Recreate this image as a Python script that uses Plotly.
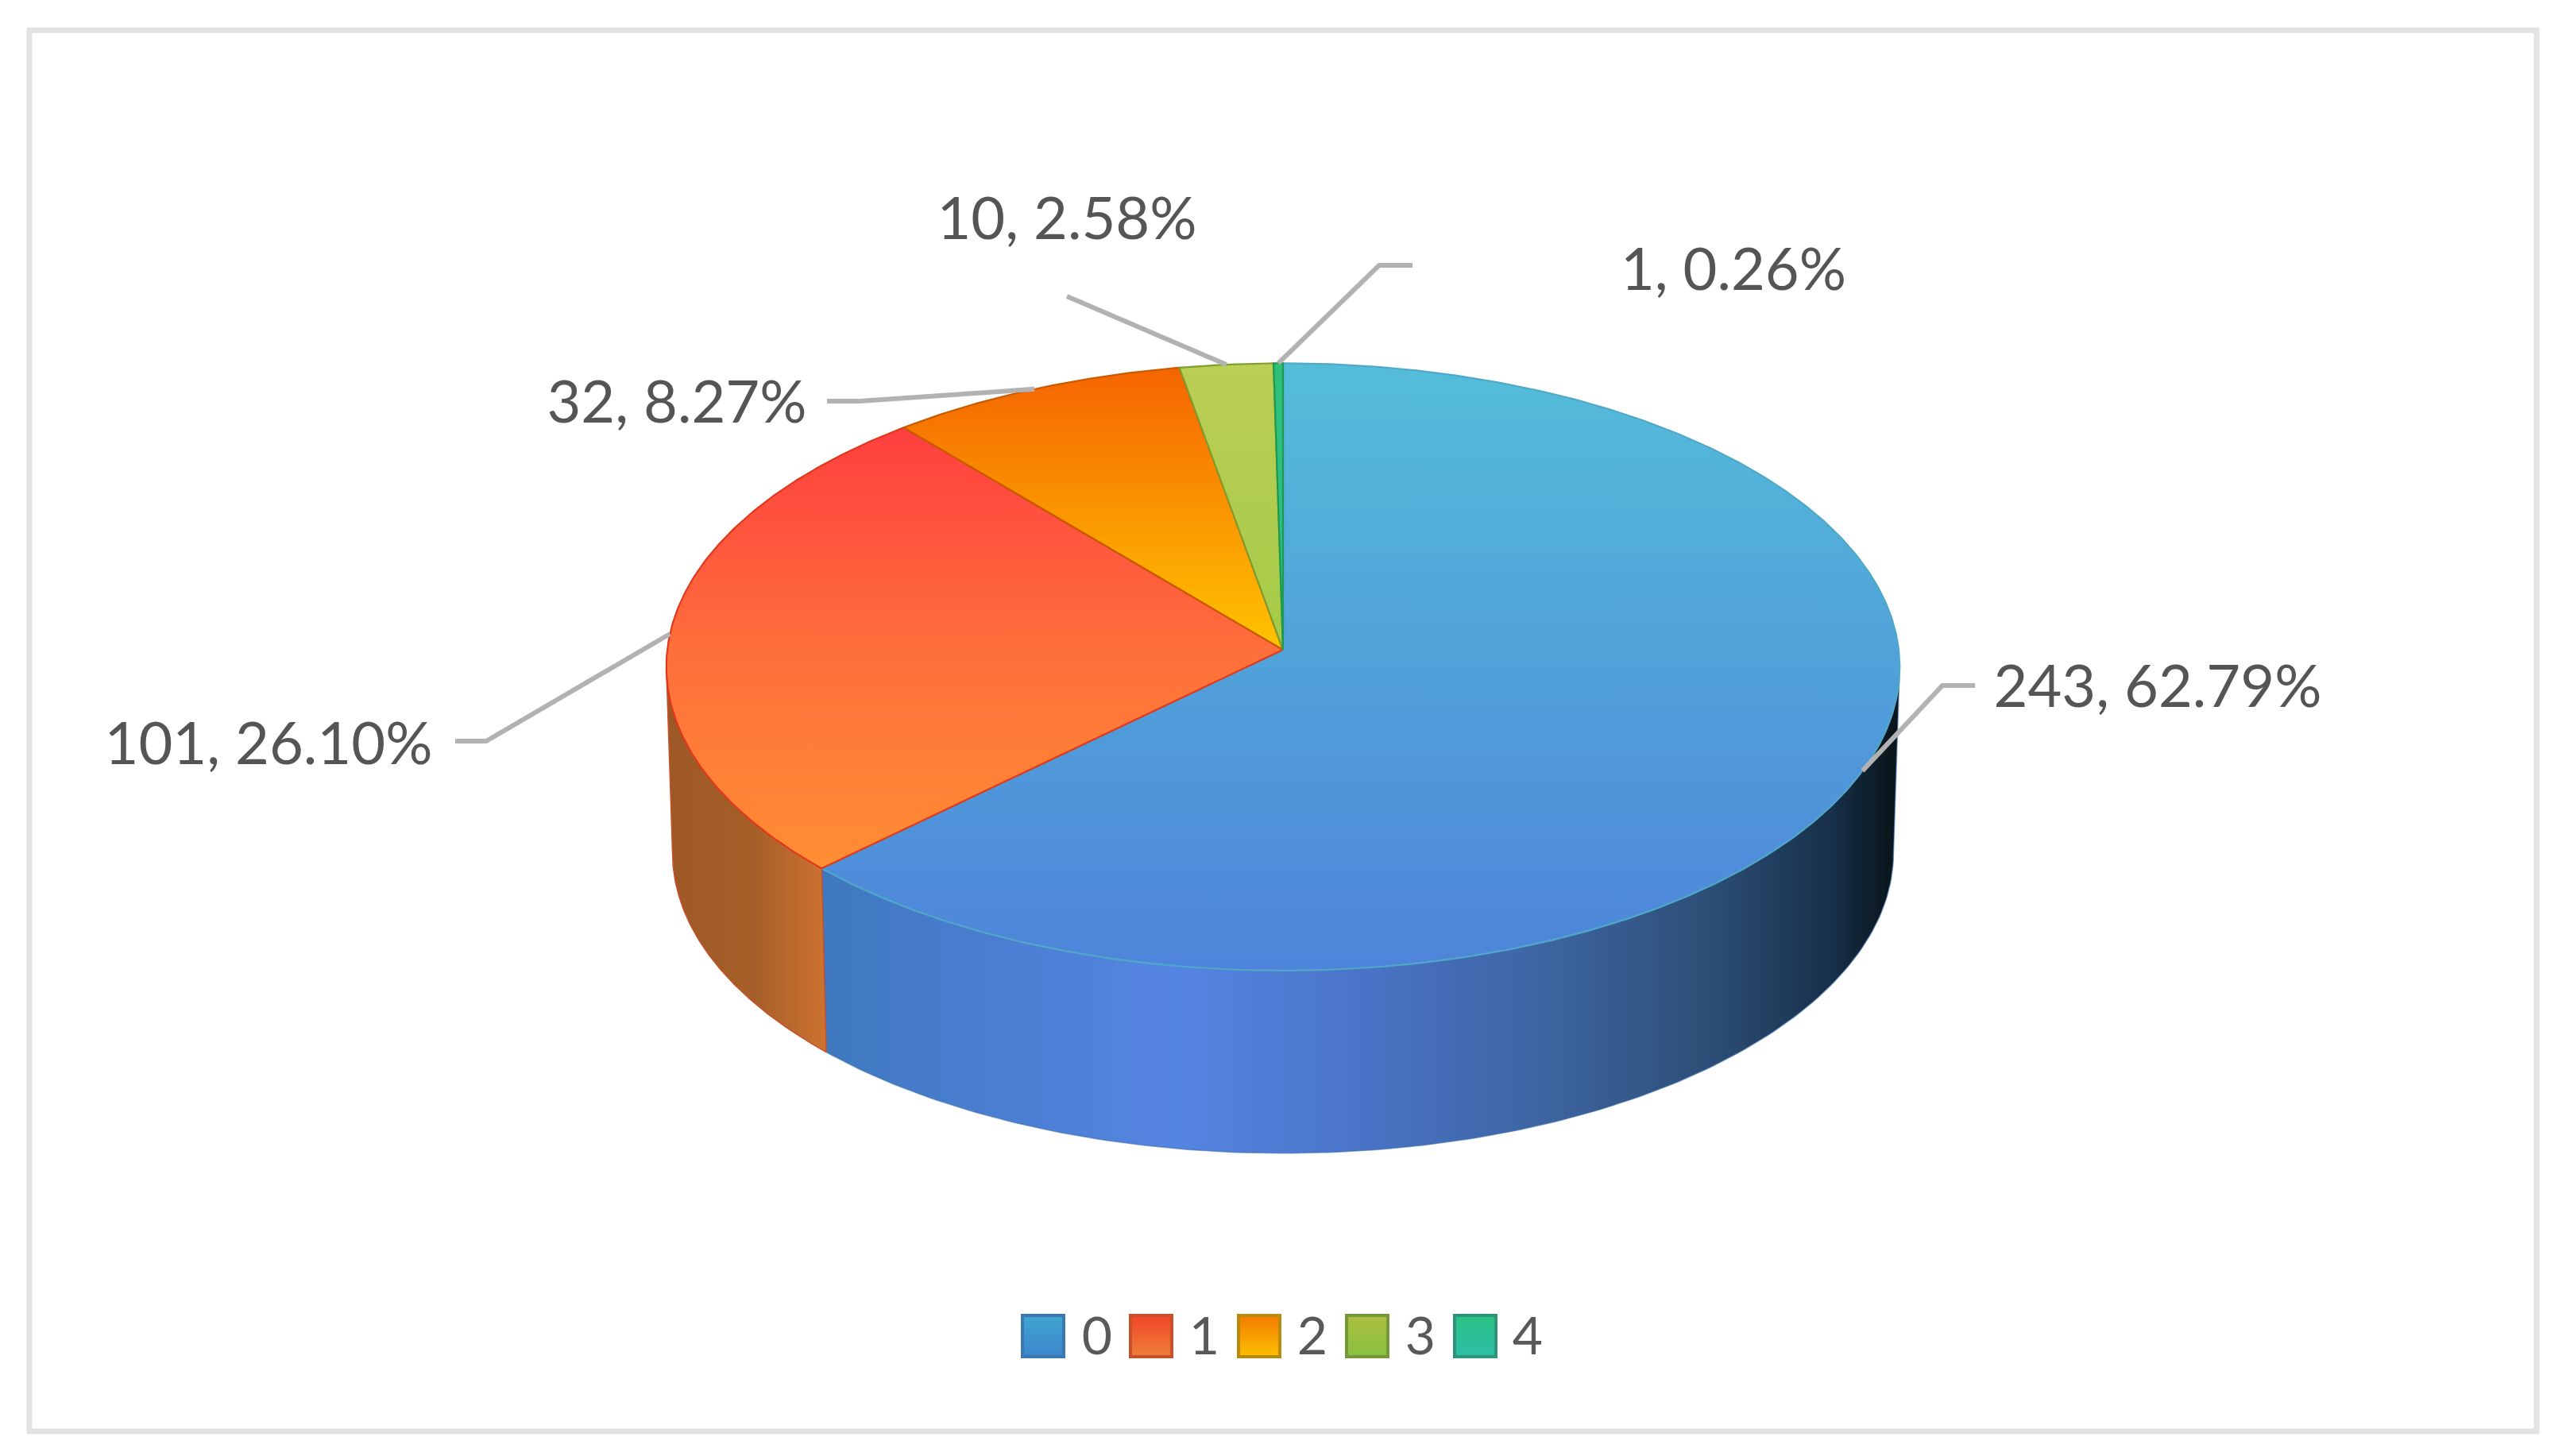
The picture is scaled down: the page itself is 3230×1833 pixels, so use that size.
import numpy as np
import plotly.graph_objects as go

categories = ["0", "1", "2", "3", "4"]
values = [243, 101, 32, 10, 1]

# label centres and leader elbows / ends, in picture pixels
label_x = [2716, 338, 852, 1343, 2182]
label_y = [871, 943, 513, 282, 346]
elbow_x = [2445, 612, 1082, None, 1736]
elbow_y = [863, 933, 505, None, 334]
start_x = [2486, 573, 1041, 1343, 1778]
start_y = [863, 933, 505, 373, 334]

legend_swatch_x = [1313, 1449, 1585, 1721, 1857]
legend_text_x = [1381, 1516, 1652, 1788, 1923]
legend_y = 1682
legend_text_y = 1688

top_colors = [
    [[0, "#54BDD9"], [1, "#4E84DA"]],
    [[0, "#FF3F3F"], [0.5, "#FF6E3B"], [1, "#FF8E33"]],
    [[0, "#F56400"], [1, "#FFC400"]],
    [[0, "#BBCE55"], [1, "#A5CB48"]],
    [[0, "#2FBF78"], [1, "#2DBE8C"]],
]
edge_colors = ["#4FA8C8", "#E0381C", "#C85A00", "#7E9E30", "#1E9A50"]
wall_blue = [[0, "#3F78BE"], [0.147, "#4A7DD0"], [0.33, "#5585E2"], [0.497, "#4A74C8"],
             [0.68, "#3D639F"], [0.83, "#2B4D74"], [0.936, "#17304A"], [0.99, "#0B171E"], [1, "#0A1418"]]
wall_orange = [[0, "#9C5826"], [0.55, "#A65F28"], [1, "#CD7330"]]
swatch_top = ["#3FA5CF", "#F0452B", "#F57A00", "#ADBE40", "#2CC385"]
swatch_bot = ["#3D85CC", "#EE7F38", "#FBC000", "#88C040", "#2DBDA8"]
swatch_edge = ["#3A78B0", "#C8502A", "#B88A10", "#74983A", "#2E957A"]

CX, CY, RX, RY, K = 1615.0, 818.0, 775.0, 381.0, 0.0566
DEPTH, SHRINK = 234.0, 0.99


def rim(theta_deg, lower=False):
    t = np.radians(theta_deg)
    d = 1 + K * np.cos(t)
    x = RX * np.sin(t) / d
    y = -RY * np.cos(t) / d
    if lower:
        return CX + SHRINK * x, CY + DEPTH + SHRINK * y
    return CX + x, CY + y


total = sum(values)
edges = np.concatenate([[0], np.cumsum(values)]) / total * 360.0
TURN = np.degrees(np.arccos(-K))  # where the rim is widest

fig = go.Figure()


def wall(a, b, scale, edge):
    th = np.linspace(a, b, 160)
    x1, y1 = rim(th)
    x2, y2 = rim(th[::-1], lower=True)
    xs = np.concatenate([x1, x2, x1[:1]])
    ys = np.concatenate([y1, y2, y1[:1]])
    fig.add_trace(go.Scatter(
        x=xs, y=ys, mode="lines", fill="toself", hoverinfo="skip", showlegend=False,
        line=dict(color=edge, width=1.5),
        fillgradient=dict(type="horizontal", colorscale=scale,
                          start=float(xs.min()), stop=float(xs.max())),
    ))


wall(TURN, edges[1], wall_blue, "rgba(60,110,170,0.6)")
wall(edges[1], 360 - TURN, wall_orange, "#C8502A")

for i, name in enumerate(categories):
    th = np.linspace(edges[i], edges[i + 1], max(4, int((edges[i + 1] - edges[i]) * 2)))
    x, y = rim(th)
    xs = np.concatenate([[CX], x, [CX]])
    ys = np.concatenate([[CY], y, [CY]])
    ymin, ymax = float(ys.min()), float(ys.max())
    fig.add_trace(go.Scatter(
        x=xs, y=ys, mode="lines", fill="toself", name=name, hoverinfo="skip", showlegend=False,
        line=dict(color=edge_colors[i], width=2.2),
        fillgradient=dict(type="vertical", colorscale=top_colors[i], start=ymin, stop=ymax),
    ))

# leader lines, ending on the rim at each slice's middle angle
mids = (edges[:-1] + edges[1:]) / 2
for i in range(len(values)):
    ex, ey = rim(np.array([mids[i]]))
    xs = [start_x[i]] + ([elbow_x[i]] if elbow_x[i] else []) + [float(ex[0])]
    ys = [start_y[i]] + ([elbow_y[i]] if elbow_y[i] else []) + [float(ey[0])]
    fig.add_trace(go.Scatter(x=xs, y=ys, mode="lines", hoverinfo="skip", showlegend=False,
                             line=dict(color="#B2B2B2", width=6)))

labels = [f"{v}, {v / total * 100:.2f}%" for v in values]
fig.add_trace(go.Scatter(x=label_x, y=label_y, mode="text", text=labels, hoverinfo="skip",
                         showlegend=False, textposition="middle center",
                         textfont=dict(family="Lato", size=74, color="#555555")))

# legend row
for i, name in enumerate(categories):
    fig.add_trace(go.Scatter(
        x=[legend_swatch_x[i]], y=[legend_y], mode="markers", hoverinfo="skip", showlegend=False,
        marker=dict(symbol="square", size=52, color=swatch_top[i],
                    gradient=dict(type="vertical", color=swatch_bot[i]),
                    line=dict(color=swatch_edge[i], width=4)),
    ))
fig.add_trace(go.Scatter(x=legend_text_x, y=[legend_text_y] * 5, mode="text", text=categories,
                         hoverinfo="skip", showlegend=False, textposition="middle center",
                         textfont=dict(family="Lato", size=66, color="#595959")))

fig.update_layout(
    width=3230, height=1833, margin=dict(l=0, r=0, t=0, b=0),
    paper_bgcolor="white", plot_bgcolor="white", showlegend=False,
    xaxis=dict(range=[0, 3230], visible=False, fixedrange=True),
    yaxis=dict(range=[1833, 0], visible=False, fixedrange=True),
    shapes=[dict(type="rect", x0=37, y0=38, x1=3193, y1=1802,
                 line=dict(color="#E2E2E2", width=7), layer="below")],
)
fig.write_html("out.html", config={"displayModeBar": False},
               post_script="document.body.style.margin='0';document.body.style.overflow='hidden';")
